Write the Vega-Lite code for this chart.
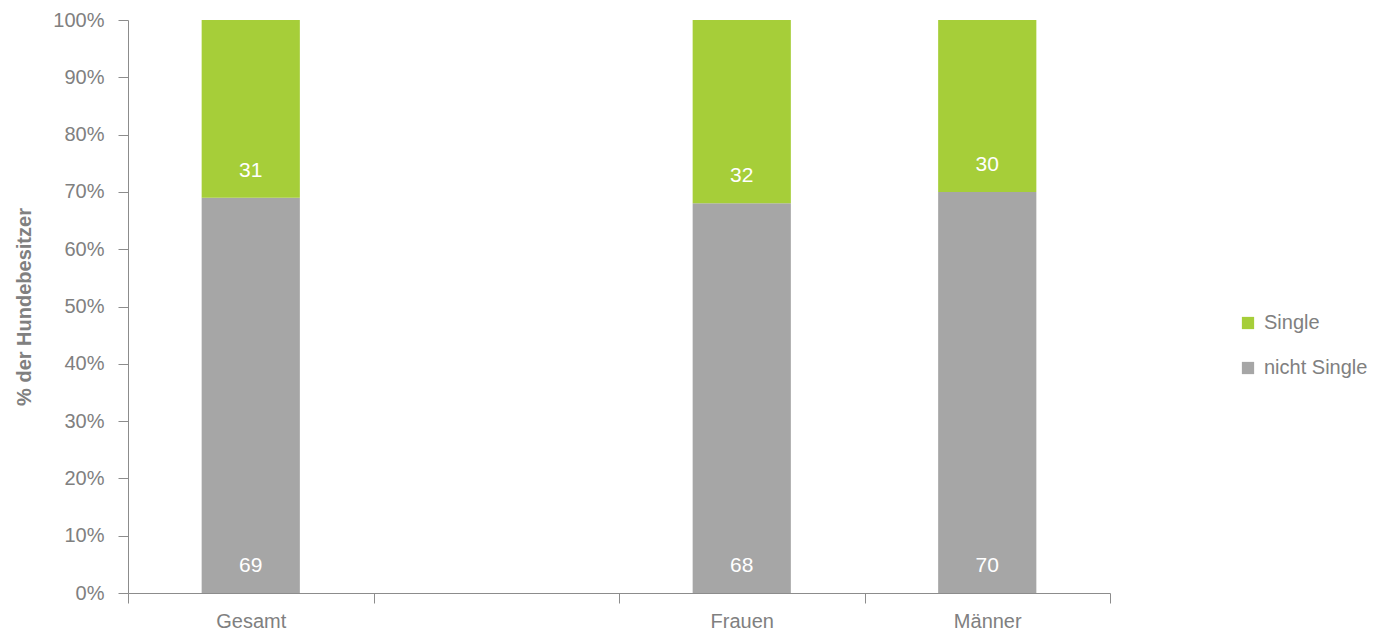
{
  "$schema": "https://vega.github.io/schema/vega-lite/v6.json",
  "width": 982,
  "height": 573,
  "autosize": {"type": "none"},
  "padding": {"left": 128, "top": 20, "right": 273, "bottom": 46},
  "background": "white",
  "config": {
    "view": {"stroke": null},
    "font": "Liberation Sans"
  },
  "data": {
    "values": [
      {"gruppe": "Gesamt", "status": "nicht Single", "wert": 69},
      {"gruppe": "Gesamt", "status": "Single", "wert": 31},
      {"gruppe": "Frauen", "status": "nicht Single", "wert": 68},
      {"gruppe": "Frauen", "status": "Single", "wert": 32},
      {"gruppe": "Männer", "status": "nicht Single", "wert": 70},
      {"gruppe": "Männer", "status": "Single", "wert": 30}
    ]
  },
  "transform": [
    {"stack": "wert", "groupby": ["gruppe"], "sort": [{"field": "status", "order": "descending"}], "as": ["y0", "y1"]}
  ],
  "encoding": {
    "x": {
      "field": "gruppe",
      "type": "nominal",
      "scale": {"domain": ["Gesamt", " ", "Frauen", "Männer"], "paddingInner": 0, "paddingOuter": 0},
      "axis": {
        "title": null,
        "labelAngle": 0,
        "tickBand": "extent",
        "tickSize": 10,
        "tickColor": "#8c8c8c",
        "domainColor": "#8c8c8c",
        "labelColor": "#808080",
        "labelFontSize": 20,
        "labelPadding": 8,
        "labelFont": "Liberation Sans"
      }
    }
  },
  "layer": [
    {
      "mark": {"type": "bar", "width": {"band": 0.4}},
      "encoding": {
        "y": {
          "field": "y0",
          "type": "quantitative",
          "scale": {"domain": [0, 100]},
          "axis": {
            "title": "% der Hundebesitzer",
            "values": [0, 10, 20, 30, 40, 50, 60, 70, 80, 90, 100],
            "labelExpr": "datum.value + '%'",
            "grid": false,
            "tickSize": 10,
            "tickColor": "#8c8c8c",
            "domainColor": "#8c8c8c",
            "labelColor": "#808080",
            "labelFontSize": 20,
            "labelPadding": 14,
            "labelFont": "Liberation Sans",
            "titleColor": "#808080",
            "titleFontSize": 20,
            "titleFontWeight": "bold",
            "titleFont": "Liberation Sans",
            "titleX": -104,
            "titleBaseline": "middle"
          }
        },
        "y2": {"field": "y1"},
        "color": {
          "field": "status",
          "type": "nominal",
          "scale": {"domain": ["Single", "nicht Single"], "range": ["#A6CE39", "#A6A6A6"]},
          "legend": {
            "title": null,
            "orient": "none",
            "legendX": 1110,
            "legendY": 293,
            "symbolType": "square",
            "symbolSize": 150,
            "symbolStrokeWidth": 0,
            "labelColor": "#808080",
            "labelFontSize": 20,
            "labelFont": "Liberation Sans",
            "rowPadding": 25,
            "labelOffset": 6
          }
        }
      }
    },
    {
      "mark": {"type": "text", "color": "white", "fontSize": 21, "baseline": "middle", "dy": -27, "font": "Liberation Sans"},
      "encoding": {
        "y": {"field": "y0", "type": "quantitative"},
        "text": {"field": "wert", "type": "quantitative"}
      }
    }
  ]
}
